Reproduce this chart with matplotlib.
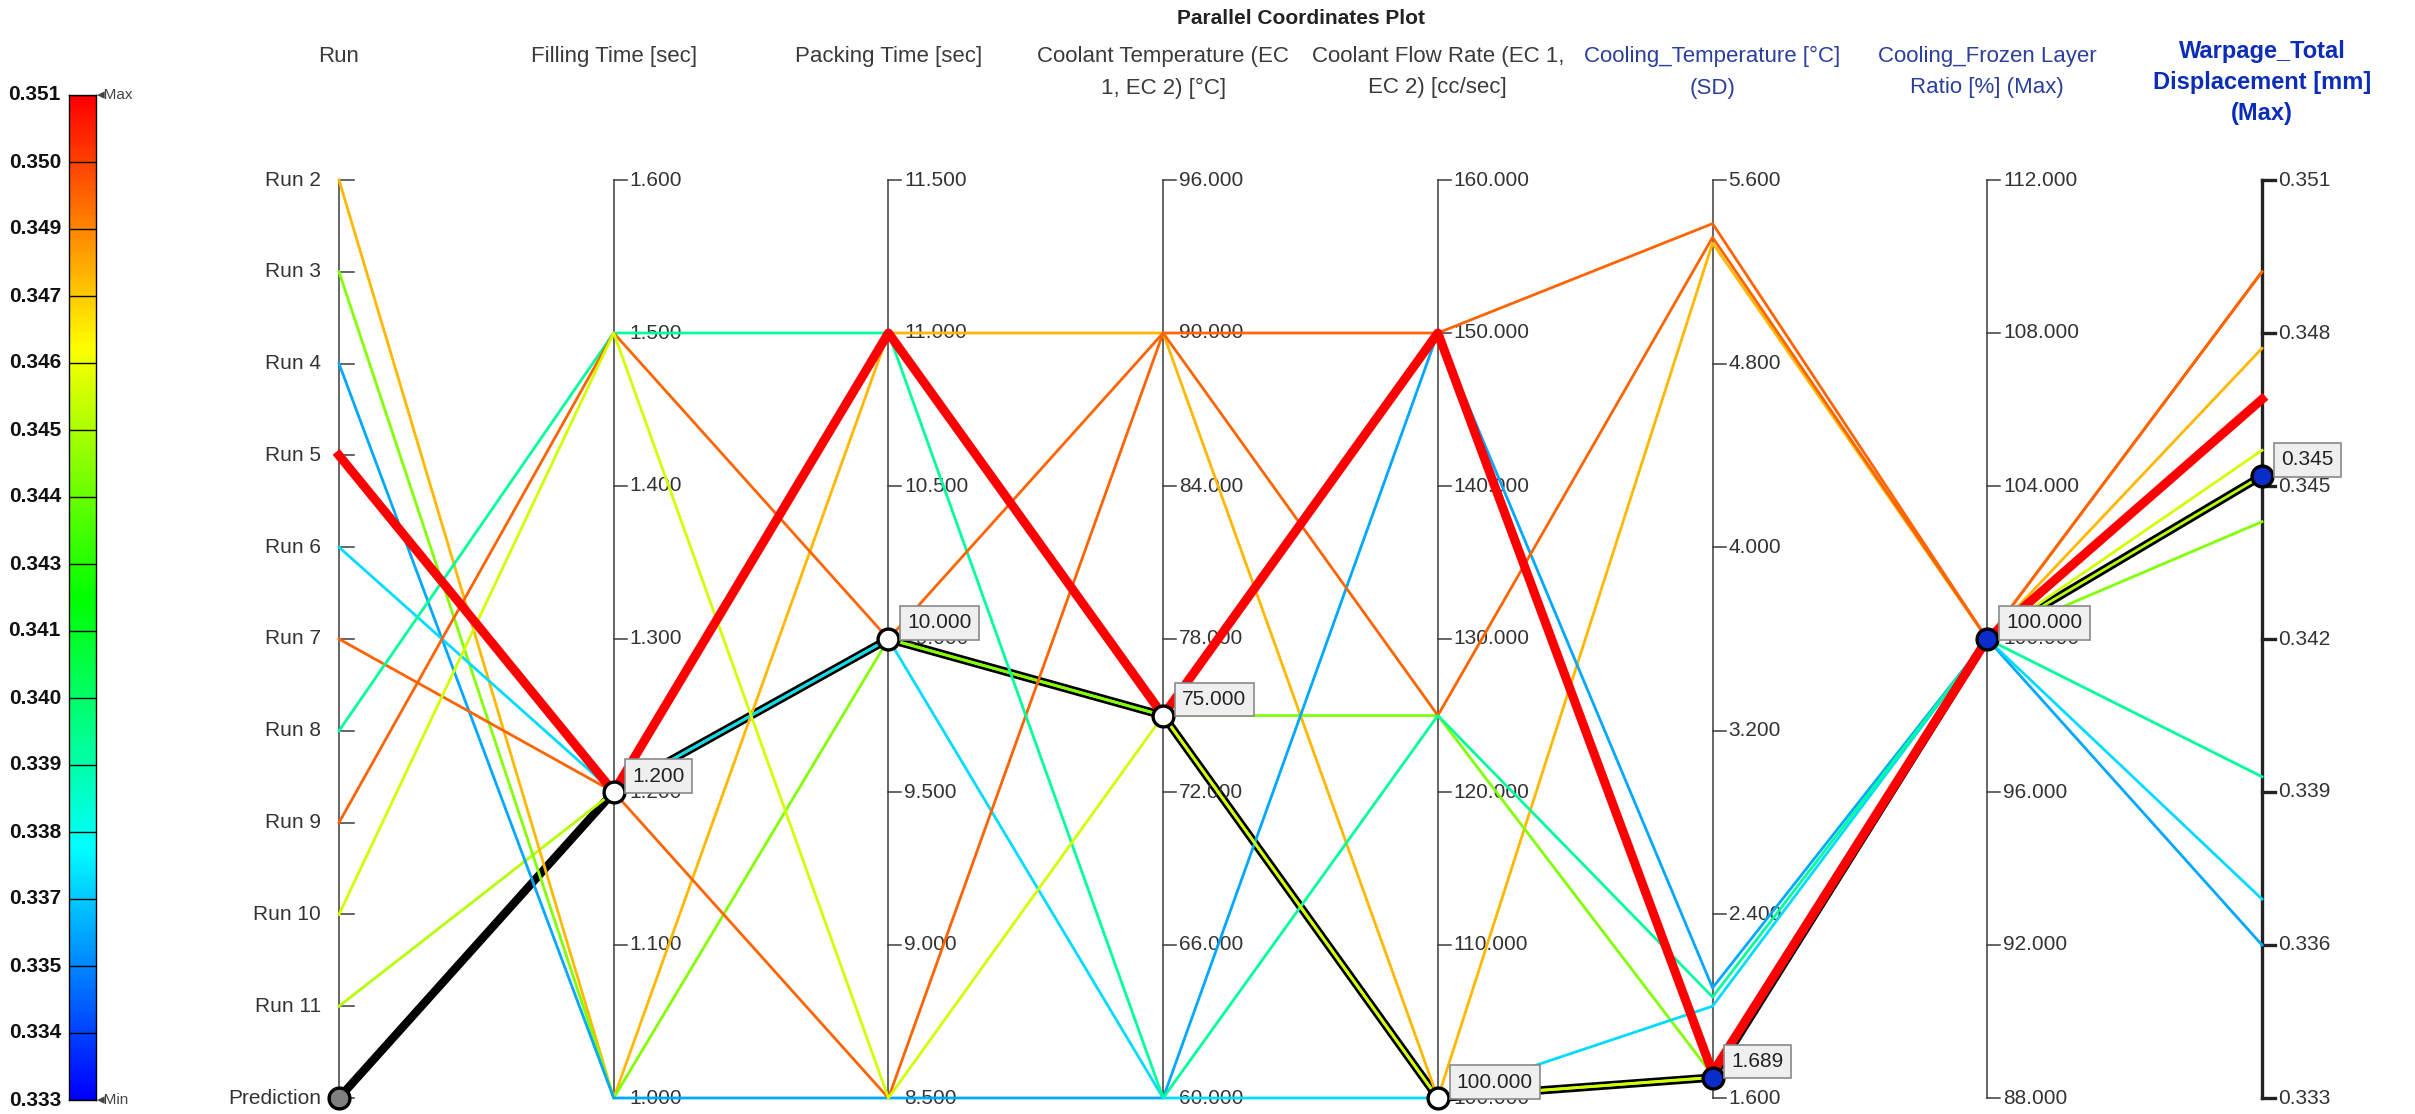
import numpy as np
import matplotlib
matplotlib.use("Agg")
import matplotlib.pyplot as plt
from matplotlib.colors import ListedColormap, Normalize, hsv_to_rgb
from matplotlib.transforms import blended_transform_factory

plt.rcParams["font.family"] = ["Liberation Sans", "DejaVu Sans"]

# DOE runs plus the predicted optimum (last row)
runs = ["Run 2", "Run 3", "Run 4", "Run 5", "Run 6", "Run 7",
        "Run 8", "Run 9", "Run 10", "Run 11", "Prediction"]
filling_time = [1.0, 1.0, 1.0, 1.2, 1.2, 1.2, 1.5, 1.5, 1.5, 1.2, 1.2]
packing_time = [11.0, 10.0, 8.5, 11.0, 10.0, 8.5, 11.0, 10.0, 8.5, 10.0, 10.0]
coolant_temp = [90, 75, 60, 75, 60, 90, 60, 90, 75, 75, 75]
coolant_flow = [100, 125, 150, 150, 100, 125, 125, 150, 100, 100, 100]
cooling_temp_sd = [5.325, 1.70, 2.08, 1.71, 2.00, 5.35, 2.04, 5.41, 1.69, 1.689, 1.689]
frozen_layer = [100, 100, 100, 100, 100, 100, 100, 100, 100, 100, 100]
warpage = [0.3477, 0.3443, 0.3360, 0.3467, 0.3369, 0.3492,
           0.3393, 0.3492, 0.3457, 0.3452, 0.3452]

highlight_run = "Run 5"

axis_titles = ["Run", "Filling Time [sec]", "Packing Time [sec]",
               "Coolant Temperature (EC\n1, EC 2) [°C]",
               "Coolant Flow Rate (EC 1,\nEC 2) [cc/sec]",
               "Cooling_Temperature [°C]\n(SD)",
               "Cooling_Frozen Layer\nRatio [%] (Max)",
               "Warpage_Total\nDisplacement [mm]\n(Max)"]
axis_min = [0, 1.0, 8.5, 60.0, 100.0, 1.6, 88.0, 0.333]
axis_max = [10, 1.6, 11.5, 96.0, 160.0, 5.6, 112.0, 0.351]
axis_nticks = [11, 7, 7, 7, 7, 6, 7, 7]
title_colors = ["#3a3a3a"] * 5 + ["#2b3f9c", "#2b3f9c", "#0b2db8"]

# rainbow from blue (min) to red (max), like the result legend
hues = np.linspace(240, 0, 256) / 360.0
cmap = ListedColormap(hsv_to_rgb(np.column_stack([hues, np.ones(256), np.ones(256)])))
wnorm = Normalize(axis_min[-1], axis_max[-1])

W, H = 2415, 1114
fig = plt.figure(figsize=(W / 100, H / 100), dpi=100)
x0, x1, ytop, ybot = 339, 2262, 180, 1098
ax = fig.add_axes([x0 / W, 1 - ybot / H, (x1 - x0) / W, (ybot - ytop) / H])
n_axes = len(axis_titles)
ax.set_xlim(0, n_axes - 1)
ax.set_ylim(0, 1)
ax.axis("off")
px = (x1 - x0) / (n_axes - 1)  # pixels per axis step


def scaled(col, v):
    return (v - axis_min[col]) / (axis_max[col] - axis_min[col])


columns = [list(range(len(runs))), filling_time, packing_time, coolant_temp,
           coolant_flow, cooling_temp_sd, frozen_layer, warpage]


def row_points(r):
    ys = [1 - r / (len(runs) - 1)]
    for c in range(1, n_axes):
        ys.append(scaled(c, columns[c][r]))
    return list(range(n_axes)), ys


# vertical axes with ticks
for c in range(n_axes):
    heavy = c == n_axes - 1
    lw = 2.4 if heavy else 1.1
    col = "#222222" if heavy else "#3c3c3c"
    ax.plot([c, c], [0, 1], color=col, lw=lw, clip_on=False, zorder=1)
    if c == 0:
        for r, name in enumerate(runs):
            y = 1 - r / (len(runs) - 1)
            ax.plot([c, c + 15 / px], [y, y], color=col, lw=lw, clip_on=False, zorder=1)
            ax.text(c - 18 / px, y, name, ha="right", va="center", fontsize=15, color="#333333")
        continue
    for t in np.linspace(axis_min[c], axis_max[c], axis_nticks[c]):
        y = scaled(c, t)
        ax.plot([c, c + 13 / px], [y, y], color=col, lw=lw, clip_on=False, zorder=1)
        ax.text(c + 16 / px, y, f"{t:.3f}", ha="left", va="center", fontsize=15, color="#333333")

# axis headers
hdr = blended_transform_factory(ax.transData, fig.transFigure)
for c, title in enumerate(axis_titles):
    if c == n_axes - 1:
        ax.text(c, 1 - 40 / H, title, transform=hdr, ha="center", va="top", fontsize=17,
                fontweight="bold", color=title_colors[c], linespacing=1.45)
    else:
        ax.text(c, 1 - 46 / H, title, transform=hdr, ha="center", va="top", fontsize=16,
                color=title_colors[c], linespacing=1.65)
fig.text(1301 / W, 1 - 18 / H, "Parallel Coordinates Plot", ha="center", va="center",
         fontsize=15, fontweight="bold", color="#222222")

# prediction underneath, thick black
pred = len(runs) - 1
px_, py_ = row_points(pred)
ax.plot(px_, py_, color="black", lw=6, solid_joinstyle="round", clip_on=False, zorder=2)

# run lines, Run 11 first so the others sit on top of it
order = [runs.index("Run 11")] + [r for r in range(pred)
                                   if runs[r] not in ("Run 11", highlight_run)]
for r in order:
    xs, ys = row_points(r)
    ax.plot(xs, ys, color=cmap(wnorm(warpage[r])), lw=2.0, clip_on=False, zorder=3)
hr = runs.index(highlight_run)
xs, ys = row_points(hr)
ax.plot(xs, ys, color="#ff0000", lw=6.5, solid_joinstyle="round", clip_on=False, zorder=4)

# prediction markers and value boxes
for c in range(n_axes):
    if c == 0:
        fc = "#808080"
    elif c >= 5:
        fc = "#0a2cc8"
    else:
        fc = "white"
    ax.plot(px_[c], py_[c], "o", ms=15, mfc=fc, mec="black", mew=2.4, clip_on=False, zorder=5)
    if c > 0:
        ax.annotate(f"{columns[c][pred]:.3f}", xy=(px_[c], py_[c]), xytext=(19, 16),
                    textcoords="offset pixels", ha="left", va="center", fontsize=15,
                    color="#222222", zorder=6,
                    bbox=dict(boxstyle="square,pad=0.35", fc="#efefef", ec="#8a8a8a", lw=1.2))

# colour legend on the left
cax = fig.add_axes([69 / W, 1 - 1100 / H, 27 / W, (1100 - 95) / H])
grad = np.linspace(axis_min[-1], axis_max[-1], 600).reshape(-1, 1)
cax.imshow(grad, origin="lower", aspect="auto", cmap=cmap, norm=wnorm,
           extent=[0, 1, axis_min[-1], axis_max[-1]])
bounds = np.linspace(axis_min[-1], axis_max[-1], 16)
for b in bounds:
    cax.axhline(b, color="black", lw=1.0)
cax.set_xticks([])
cax.set_yticks([])
for s in cax.spines.values():
    s.set_color("black")
    s.set_linewidth(1.0)
ltr = blended_transform_factory(cax.transAxes, cax.transData)
for b in bounds:
    cax.text(-0.3, b, f"{b:.3f}", transform=ltr, ha="right", va="center",
             fontsize=15, fontweight="bold", color="#111111")
cax.text(1.05, axis_max[-1], "◂Max", transform=ltr, ha="left", va="center",
         fontsize=11, color="#444444")
cax.text(1.05, axis_min[-1], "◂Min", transform=ltr, ha="left", va="center",
         fontsize=11, color="#444444")

fig.savefig("out.png", dpi=100, facecolor="white")
